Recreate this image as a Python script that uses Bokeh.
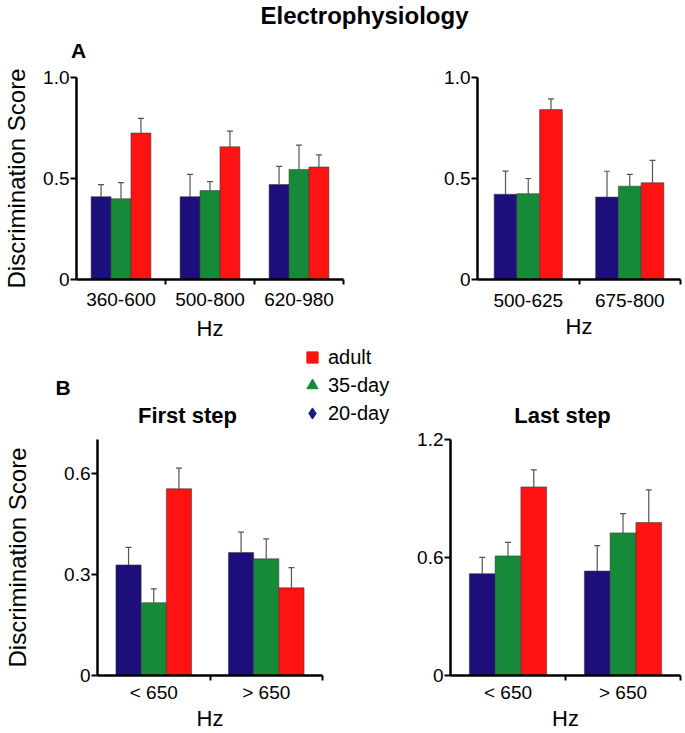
import numpy as np
from bokeh.plotting import figure
from bokeh.models import (Range1d, FixedTicker, Whisker, TeeHead, ColumnDataSource,
                          Label, Legend, LegendItem)
from bokeh.layouts import column, row
from bokeh.embed import file_html
from bokeh.resources import INLINE

FONT = "Liberation Sans"
BLUE = "#1c0f7c"
GREEN = "#168a38"
RED = "#ff1212"
ERR = "#555555"

series = ["20-day", "35-day", "adult"]

# ---- Panel A (left) ----
a1_cats = ["360-600", "500-800", "620-980"]
a1_day20 = [0.41, 0.41, 0.47]
a1_day20_err = [0.06, 0.11, 0.09]
a1_day35 = [0.40, 0.44, 0.545]
a1_day35_err = [0.08, 0.045, 0.12]
a1_adult = [0.725, 0.657, 0.557]
a1_adult_err = [0.073, 0.078, 0.06]

# ---- Panel A (right) ----
a2_cats = ["500-625", "675-800"]
a2_day20 = [0.422, 0.408]
a2_day20_err = [0.115, 0.128]
a2_day35 = [0.425, 0.462]
a2_day35_err = [0.075, 0.058]
a2_adult = [0.841, 0.479]
a2_adult_err = [0.053, 0.111]

# ---- Panel B: First step ----
b1_cats = ["< 650", "> 650"]
b1_day20 = [0.328, 0.365]
b1_day20_err = [0.052, 0.06]
b1_day35 = [0.216, 0.346]
b1_day35_err = [0.041, 0.059]
b1_adult = [0.554, 0.26]
b1_adult_err = [0.061, 0.06]

# ---- Panel B: Last step ----
b2_cats = ["< 650", "> 650"]
b2_day20 = [0.518, 0.531]
b2_day20_err = [0.083, 0.129]
b2_day35 = [0.608, 0.725]
b2_day35_err = [0.069, 0.098]
b2_adult = [0.959, 0.778]
b2_adult_err = [0.087, 0.166]

a_yticks = [0, 0.5, 1.0]
a_ylabels = ["0", "0.5", "1.0"]
b1_yticks = [0, 0.3, 0.6]
b1_ylabels = ["0", "0.3", "0.6"]
b2_yticks = [0, 0.6, 1.2]
b2_ylabels = ["0", "0.6", "1.2"]

BW = 0.224


def make_panel(cats, vals, errs, ymax, yticks, ylabels, width, height,
               borders, ylabel=None, ylabel_standoff=8, xlab_standoff=8,
               hz_standoff=2):
    n = len(cats)
    p = figure(width=width, height=height, toolbar_location=None,
               output_backend="svg", x_range=Range1d(0, n),
               y_range=Range1d(0, ymax))
    p.min_border_left, p.min_border_right, p.min_border_top, p.min_border_bottom = borders
    p.outline_line_color = None
    p.grid.visible = False
    colors = [BLUE, GREEN, RED]
    for j in range(3):
        x = np.arange(n) + 0.5 + (j - 1) * BW
        v = np.array(vals[j])
        e = np.array(errs[j])
        src = ColumnDataSource(dict(x=x, top=v, upper=v + e))
        p.vbar(x="x", top="top", bottom=0, width=BW, source=src,
               fill_color=colors[j], line_color="#3a3a3a", line_width=0.8,
               line_alpha=0.7)
        w = Whisker(base="x", lower="top", upper="upper", source=src,
                    dimension="height", line_color=ERR, line_width=1.2,
                    upper_head=TeeHead(size=6, line_color=ERR, line_width=1.2),
                    lower_head=None)
        p.add_layout(w)
    centers = [i + 0.5 for i in range(n)]
    bounds = [float(i + 1) for i in range(n)]
    xa = p.xaxis[0]
    xa.ticker = FixedTicker(ticks=centers, minor_ticks=bounds)
    xa.major_label_overrides = {c: name for c, name in zip(centers, cats)}
    xa.major_tick_out = 0
    xa.major_tick_in = 0
    xa.minor_tick_out = 5
    xa.minor_tick_in = 0
    xa.minor_tick_line_width = 2
    xa.major_label_standoff = xlab_standoff
    xa.axis_label = "Hz"
    xa.axis_label_standoff = hz_standoff
    ya = p.yaxis[0]
    ya.ticker = FixedTicker(ticks=yticks, minor_ticks=[])
    ya.major_label_overrides = {t: s for t, s in zip(yticks, ylabels)}
    ya.major_tick_out = 6
    ya.major_tick_in = 0
    ya.major_tick_line_width = 2
    ya.minor_tick_out = 0
    ya.minor_tick_in = 0
    ya.major_label_standoff = 1
    if ylabel:
        ya.axis_label = ylabel
        ya.axis_label_standoff = ylabel_standoff
    for ax in (xa, ya):
        ax.axis_line_width = 2.5
        ax.axis_line_color = "black"
        ax.major_tick_line_color = "black"
        ax.minor_tick_line_color = "black"
        ax.major_label_text_font = FONT
        ax.major_label_text_font_size = "19px"
        ax.major_label_text_color = "black"
        ax.axis_label_text_font = FONT
        ax.axis_label_text_font_style = "normal"
        ax.axis_label_text_color = "black"
    xa.axis_label_text_font_size = "22px"
    ya.axis_label_text_font_size = "24px"
    return p


def strip(width, height):
    s = figure(width=width, height=height, toolbar_location=None,
               output_backend="svg", x_range=Range1d(0, 1), y_range=Range1d(0, 1),
               x_axis_location=None, y_axis_location=None, min_border=0)
    s.outline_line_color = None
    s.grid.visible = False
    return s


def add_text(p, x, y, txt, size, bold=True):
    p.add_layout(Label(x=x, y=y, x_units="screen", y_units="screen", text=txt,
                       text_font=FONT, text_font_size=size,
                       text_font_style="bold" if bold else "normal",
                       text_align="center", text_baseline="middle",
                       text_color="black"))


# Title strip (with panel letter A)
s_top = strip(685, 63)
add_text(s_top, 364, 48, "Electrophysiology", "24px")
add_text(s_top, 78, 13, "A", "21px")

pA1 = make_panel(a1_cats, [a1_day20, a1_day35, a1_adult],
                 [a1_day20_err, a1_day35_err, a1_adult_err], 1.0,
                 a_yticks, a_ylabels, 398, 280, (74, 55, 14, 62),
                 ylabel="Discrimination Score", ylabel_standoff=10,
                 xlab_standoff=8, hz_standoff=7)

pA2 = make_panel(a2_cats, [a2_day20, a2_day35, a2_adult],
                 [a2_day20_err, a2_day35_err, a2_adult_err], 1.0,
                 a_yticks, a_ylabels, 287, 280, (79, 5, 13, 56),
                 xlab_standoff=9, hz_standoff=4)

# Strip above panel B: letter B, subtitles and the key
s_b = strip(685, 85)
add_text(s_b, 62.5, 41.5, "B", "21px")
add_text(s_b, 187, 13, "First step", "22px")
add_text(s_b, 562, 13, "Last step", "22px")
# key markers: one point each, placed outside the strip's visible range
r_adult = s_b.scatter(x=[-10], y=[-10], marker="square", size=12, fill_color=RED, line_color=RED)
r_35 = s_b.scatter(x=[-10], y=[-10], marker="triangle", size=12, fill_color=GREEN, line_color=GREEN)
r_20 = s_b.scatter(x=[-10], y=[-10], marker="diamond", size=12, fill_color="#1a1a80", line_color="#1a1a80")
leg = Legend(items=[LegendItem(label="adult", renderers=[r_adult]),
                    LegendItem(label="35-day", renderers=[r_35]),
                    LegendItem(label="20-day", renderers=[r_20])],
             location=(298, 1), orientation="vertical",
             glyph_width=28, glyph_height=28, label_standoff=2,
             padding=0, spacing=0, margin=0,
             border_line_color=None, background_fill_alpha=0,
             label_text_font=FONT, label_text_font_size="20px",
             label_text_color="black", label_height=28)
s_b.add_layout(leg, "center")

pB1 = make_panel(b1_cats, [b1_day20, b1_day35, b1_adult],
                 [b1_day20_err, b1_day35_err, b1_adult_err], 0.7,
                 b1_yticks, b1_ylabels, 398, 305, (97, 76, 11, 58),
                 ylabel="Discrimination Score", ylabel_standoff=30,
                 xlab_standoff=1, hz_standoff=0)

pB2 = make_panel(b2_cats, [b2_day20, b2_day35, b2_adult],
                 [b2_day20_err, b2_day35_err, b2_adult_err], 1.2,
                 b2_yticks, b2_ylabels, 287, 305, (52, 5, 11, 58),
                 xlab_standoff=1, hz_standoff=0)

layout = column(s_top, row(pA1, pA2), s_b, row(pB1, pB2))
open("out.html", "w").write(file_html(layout, INLINE))
